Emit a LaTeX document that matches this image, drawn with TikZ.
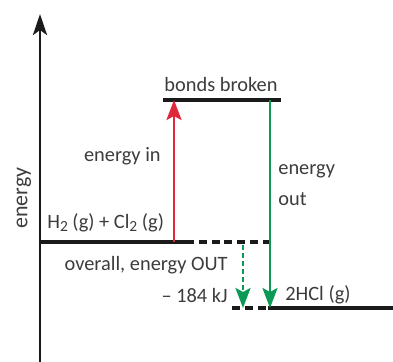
\documentclass[tikz,border=0pt]{standalone}
\usepackage{fontspec}
\setmainfont{Carlito}
\usepackage{tikz}
\usetikzlibrary{arrows.meta,positioning,calc}
\definecolor{enInk}{HTML}{1A1A1A}
\definecolor{enRed}{HTML}{E0283C}
\definecolor{enGreen}{HTML}{0A9A55}
\newcommand{\sub}[1]{\raisebox{-0.35ex}{\fontsize{8.8}{8.8}\selectfont #1}}

\begin{document}
\begin{tikzpicture}[
  x=0.02cm, y=-0.02cm,
  font=\fontsize{11.6}{13}\selectfont,
  txt/.style={inner sep=0pt,text=enInk!85},
  level/.style={draw=enInk,line width=2.3pt},
  dlevel/.style={level,dash pattern=on 4.5pt off 2.8pt},
  axis/.style={draw=enInk,line width=1.7pt,-{Stealth[length=4.2mm,width=2.8mm,inset=1mm]}},
  arr/.style={line width=1.5pt,-{Stealth[length=4mm,width=3mm,inset=0.8mm]}}
]
\useasboundingbox (0,0) rectangle (393,362);
% axis
\coordinate (axbot) at (40,362);
\coordinate (axtop) at (40,14);
\draw[axis] (axbot) -- (axtop);
\node[txt,rotate=90,font=\fontsize{12.5}{13}\selectfont] (ylab) at (24,198) {energy};
% levels
\coordinate (reacL) at (40,242);
\coordinate (reacR) at (186,242);
\coordinate (reacD) at (271,242);
\coordinate (brokL) at (163,100);
\coordinate (brokR) at (281,100);
\coordinate (prodD) at (232,308);
\coordinate (prodL) at (268,308);
\coordinate (prodR) at (393,308);
\draw[level] (reacL) -- (reacR);
\draw[dlevel] (reacR) -- (reacD);
\draw[level] (brokL) -- (brokR);
\draw[dlevel] (prodD) -- (prodL);
\draw[level] (prodL) -- (prodR);
% arrows
\coordinate (inB) at (174,242);
\coordinate (inT) at (174,100);
\coordinate (outT) at (270,100);
\coordinate (outB) at (270,308);
\coordinate (netT) at (243,245);
\coordinate (netB) at (243,308);
\draw[arr,enRed] (inB) -- (inT);
\draw[arr,enGreen] (outT) -- (outB);
\draw[arr,enGreen,dash pattern=on 3pt off 1.5pt] (netT) -- (netB);
% labels
\node[txt,anchor=base] (broken) at (221,91) {bonds broken};
\node[txt,anchor=base east] (ein) at (161,161) {energy in};
\node[txt,anchor=north west,align=left] (eout) at (278,164) {energy\\[5pt]out};
\node[txt,anchor=base west] (reac) at (47,228) {H\sub{2} (g) + Cl\sub{2} (g)};
\node[txt,anchor=base east] (overall) at (228,270) {overall, energy OUT};
\node[txt,anchor=base east] (dH) at (228,302) {-- 184 kJ};
\node[txt,anchor=base west] (prod) at (285,300) {2HCl (g)};
\end{tikzpicture}
\end{document}
